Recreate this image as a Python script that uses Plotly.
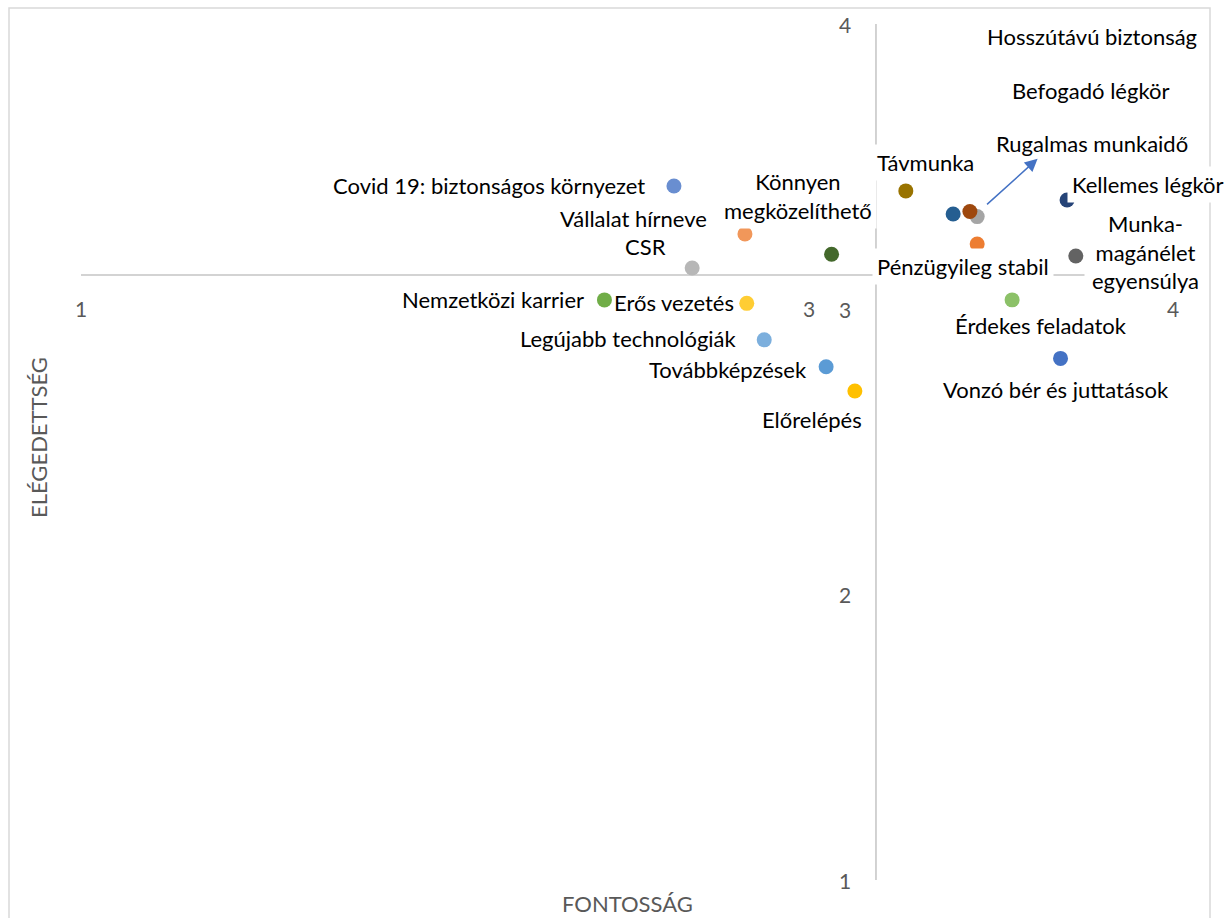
import plotly.graph_objects as go

# ---- data ----
labels = [
    "Vonzó bér és juttatások", "Pénzügyileg stabil", "Hosszútávú biztonság",
    "Előrelépés", "Továbbképzések", "Nemzetközi karrier", "Kellemes légkör",
    "Befogadó légkör", "Munka-<br>magánélet<br>egyensúlya", "Távmunka",
    "Rugalmas munkaidő", "Könnyen<br>megközelíthető",
    "Covid 19: biztonságos környezet", "Vállalat hírneve", "CSR",
    "Erős vezetés", "Legújabb technológiák", "Érdekes feladatok",
]
fontossag = [3.691, 3.462, 3.462, 3.126, 3.047, 2.438, 3.709, 3.442, 3.733,
             3.266, 3.396, 3.062, 2.629, 2.824, 2.679, 2.829, 2.877, 3.558]
elegedettseg = [2.828, 3.229, 3.325, 2.714, 2.799, 3.033, 3.383, 3.343, 3.187,
                3.415, 3.334, 3.193, 3.432, 3.264, 3.145, 3.021, 2.893, 3.033]
x_ticks = [1, 2, 3, 4]
y_ticks = [1, 2, 3, 4]
x_title = "FONTOSSÁG"
y_title = "ELÉGEDETTSÉG"

# ---- styling / layout constants ----
colors = ["#4472C4", "#ED7D31", "#A5A5A5", "#FFC000", "#5B9BD5", "#70AD47",
          "#264478", "#9E480E", "#636363", "#997300", "#255E91", "#43682B",
          "#698ED0", "#F1975A", "#B7B7B7", "#FFCD33", "#7CAFDD", "#8CC168"]
# label offsets from each point, in pixels (dx right, dy up)
label_offsets = [(-5, -31), (-14, -23), (115, 180), (-43, -29), (-98, -3),
                 (-111, 0), (81, 16), (121, 121), (70, 4), (20, 28),
                 (139, 71), (-34, 58), (-185, 1), (-111, 16), (-47, 21),
                 (-73, 1), (-136, 1), (29, -26)]
# white padding round each label box
label_pads = [4, 4, 4, 4, 4, 4, 4, 4, 7, 4, 4, 4, 4, 4, 4, 1, 4, 4]
x_cross = 3.184   # where the vertical axis crosses
y_cross = 3.12    # where the horizontal axis crosses
arrow_tail = (3.485, 3.363)
arrow_tip = (3.628, 3.528)

FONT = "Lato, 'Open Sans', sans-serif"
W, H = 1231, 918
ML, MR, MT, MB = 81, 58, 24, 38

fig = go.Figure()
for i, lab in enumerate(labels):
    fig.add_trace(go.Scatter(
        x=[fontossag[i]], y=[elegedettseg[i]], mode="markers",
        marker=dict(size=15, color=colors[i], line=dict(width=0)),
        name=lab.replace("<br>", " "), showlegend=False, hoverinfo="skip"))

shapes = [
    # horizontal value axis crossing at y_cross
    dict(type="line", xref="x", yref="y", x0=1, x1=4, y0=y_cross, y1=y_cross,
         line=dict(color="#C4C4C4", width=1.5), layer="below"),
    # vertical value axis crossing at x_cross
    dict(type="line", xref="x", yref="y", x0=x_cross, x1=x_cross, y0=1, y1=4,
         line=dict(color="#C4C4C4", width=1.5), layer="below"),
]
pw, ph = W - ML - MR, H - MT - MB
shapes.append(dict(type="rect", xref="paper", yref="paper",
                   x0=(9 - ML) / pw, x1=(1210 - ML) / pw,
                   y0=(H - MB - 940) / ph, y1=(H - MB - 8) / ph,
                   line=dict(color="#D9D9D9", width=1.5), layer="below"))

annotations = []
tick_font = dict(family=FONT, size=21, color="#595959")
for v in x_ticks:
    annotations.append(dict(x=v, y=y_cross, xref="x", yref="y", text=str(v),
                            showarrow=False, yshift=-33, font=tick_font))
for v in y_ticks:
    annotations.append(dict(x=x_cross, y=v, xref="x", yref="y", text=str(v),
                            showarrow=False, xshift=-31, font=tick_font))

lab_font = dict(family=FONT, size=22, color="#000000")
for i, lab in enumerate(labels):
    dx, dy = label_offsets[i]
    annotations.append(dict(x=fontossag[i], y=elegedettseg[i], xref="x", yref="y",
                            text=lab, showarrow=False, xshift=dx, yshift=dy,
                            xanchor="center", yanchor="middle", align="center",
                            bgcolor="#FFFFFF", borderpad=label_pads[i], font=lab_font))

annotations.append(dict(x=arrow_tip[0], y=arrow_tip[1], ax=arrow_tail[0], ay=arrow_tail[1],
                        xref="x", yref="y", axref="x", ayref="y", text="",
                        showarrow=True, arrowhead=2, arrowsize=1.7, arrowwidth=1.5,
                        arrowcolor="#4472C4"))

title_font = dict(family=FONT, size=22, color="#595959")
annotations.append(dict(x=0.5, y=(H - MB - 903) / ph, xref="paper", yref="paper",
                        text=x_title, showarrow=False, font=title_font,
                        xanchor="center", yanchor="middle"))
annotations.append(dict(x=(38 - ML) / pw, y=(H - MB - 438) / ph, xref="paper", yref="paper",
                        text=y_title, showarrow=False, font=title_font, textangle=-90,
                        xanchor="center", yanchor="middle"))

fig.update_layout(
    width=W, height=H,
    margin=dict(l=ML, r=MR, t=MT, b=MB),
    paper_bgcolor="#FFFFFF", plot_bgcolor="#FFFFFF",
    xaxis=dict(range=[1, 4], showgrid=False, zeroline=False, showticklabels=False,
               showline=False, ticks=""),
    yaxis=dict(range=[1, 4], showgrid=False, zeroline=False, showticklabels=False,
               showline=False, ticks=""),
    shapes=shapes, annotations=annotations, showlegend=False,
)

fig.write_html("out.html")
